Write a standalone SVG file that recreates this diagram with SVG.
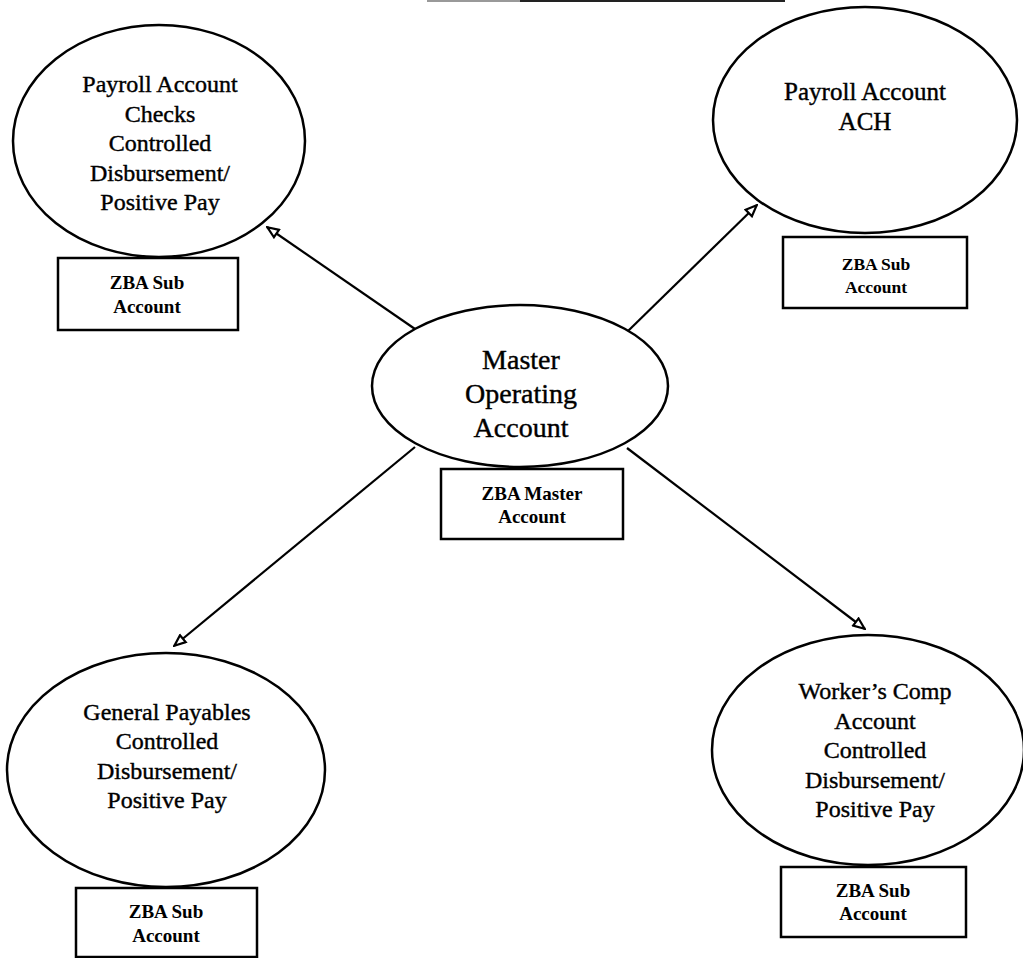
<svg xmlns="http://www.w3.org/2000/svg" width="1023" height="958" viewBox="0 0 1023 958">
<style>
.e{fill:#fff;stroke:#000;stroke-width:2.5}
.b{fill:#fff;stroke:#000;stroke-width:2.5}
.t{font-family:"Liberation Serif","Times New Roman",serif;font-size:24px;text-anchor:middle;fill:#000;stroke:#000;stroke-width:0.4}
.m{font-family:"Liberation Serif","Times New Roman",serif;font-size:28px;text-anchor:middle;fill:#000;stroke:#000;stroke-width:0.4}
.s{font-family:"Liberation Serif","Times New Roman",serif;font-size:19px;font-weight:bold;text-anchor:middle;fill:#000}
.c{stroke:#000;stroke-width:2.2;fill:none;marker-end:url(#arr)}
</style>
<defs>
<marker id="arr" viewBox="0 0 14 12" refX="13" refY="6" markerWidth="14" markerHeight="12" markerUnits="userSpaceOnUse" orient="auto">
<path d="M1.5,1.5 L12.5,6 L1.5,10.5 Z" fill="#fff" stroke="#000" stroke-width="2.2"/>
</marker>
</defs>
<rect width="1023" height="958" fill="#fff"/>
<line x1="427" y1="1" x2="520" y2="1" stroke="#999" stroke-width="2"/>
<line x1="520" y1="1" x2="785" y2="1" stroke="#222" stroke-width="2"/>
<g id="connectors">
<line class="c" x1="415" y1="329" x2="267" y2="227"/>
<line class="c" x1="627" y1="332" x2="757" y2="205"/>
<line class="c" x1="415" y1="447" x2="174" y2="646"/>
<line class="c" x1="627" y1="448" x2="865" y2="629"/>
</g>
<g id="payroll-checks">
<ellipse class="e" cx="159" cy="141" rx="146" ry="116"/>
<text class="t" x="160" y="92">Payroll Account</text>
<text class="t" x="160" y="121.5">Checks</text>
<text class="t" x="160" y="151">Controlled</text>
<text class="t" x="160" y="180.5">Disbursement/</text>
<text class="t" x="160" y="210">Positive Pay</text>
<rect class="b" x="58" y="258" width="180" height="72"/>
<text class="s" x="147" y="289">ZBA Sub</text>
<text class="s" x="147" y="313">Account</text>
</g>
<g id="payroll-ach">
<ellipse class="e" cx="865" cy="120" rx="152" ry="113"/>
<text class="t" x="865" y="100" style="font-size:25px">Payroll Account</text>
<text class="t" x="865" y="130" style="font-size:25px">ACH</text>
<rect class="b" x="783" y="237" width="184" height="71"/>
<text class="s" x="876" y="270" style="font-size:17.5px">ZBA Sub</text>
<text class="s" x="876" y="293" style="font-size:17.5px">Account</text>
</g>
<g id="master">
<ellipse class="e" cx="520" cy="386" rx="148" ry="81"/>
<text class="m" x="521" y="369">Master</text>
<text class="m" x="521" y="403">Operating</text>
<text class="m" x="521" y="437">Account</text>
<rect class="b" x="441" y="469" width="182" height="70"/>
<text class="s" x="532" y="500">ZBA Master</text>
<text class="s" x="532" y="523">Account</text>
</g>
<g id="general-payables">
<ellipse class="e" cx="166" cy="770" rx="159" ry="117"/>
<text class="t" x="167" y="720">General Payables</text>
<text class="t" x="167" y="749.3">Controlled</text>
<text class="t" x="167" y="778.7">Disbursement/</text>
<text class="t" x="167" y="808">Positive Pay</text>
<rect class="b" x="76" y="888" width="181" height="69"/>
<text class="s" x="166" y="918">ZBA Sub</text>
<text class="s" x="166" y="942">Account</text>
</g>
<g id="workers-comp">
<ellipse class="e" cx="868" cy="750" rx="156" ry="115"/>
<text class="t" x="875" y="699">Worker’s Comp</text>
<text class="t" x="875" y="728.5">Account</text>
<text class="t" x="875" y="758">Controlled</text>
<text class="t" x="875" y="787.5">Disbursement/</text>
<text class="t" x="875" y="817">Positive Pay</text>
<rect class="b" x="781" y="867" width="185" height="70"/>
<text class="s" x="873" y="897">ZBA Sub</text>
<text class="s" x="873" y="920">Account</text>
</g>
</svg>
